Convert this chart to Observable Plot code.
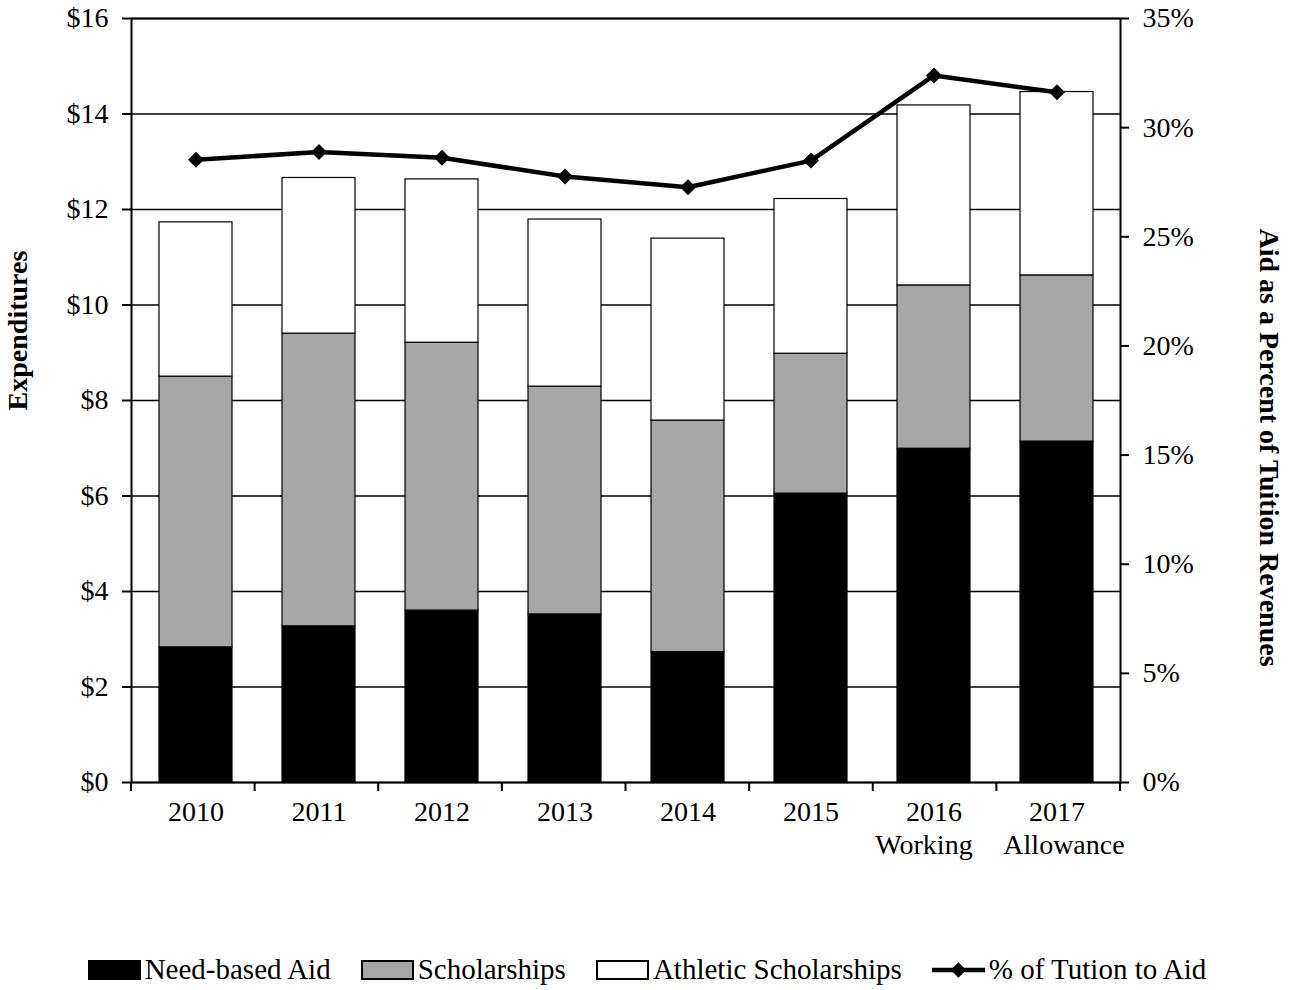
<!DOCTYPE html>
<html>
<head>
<meta charset="utf-8">
<script src="https://cdn.jsdelivr.net/npm/d3@7"></script>
<script src="https://cdn.jsdelivr.net/npm/@observablehq/plot@0.6"></script>
<style>
  html, body { margin: 0; padding: 0; background: #fff; }
  #wrap { position: relative; width: 1294px; height: 990px; font-family: "Liberation Serif", "Times New Roman", serif; }
  #chart svg { display: block; }
  #legend {
    position: absolute; left: 0; top: 953px; width: 1294px;
    display: flex; justify-content: center; align-items: center;
    font-size: 29px; color: #000; gap: 30px;
  }
  .item { display: flex; align-items: center; }
  .item svg { margin-right: 4px; }
</style>
</head>
<body>
<div id="wrap">
  <div id="chart"></div>
  <div id="legend"></div>
</div>
<script>
// Fiscal years shown on the category axis
const years = ["2010", "2011", "2012", "2013", "2014", "2015", "2016", "2017"];

// Expenditures by aid type ($ millions)
const needBased = [2.83, 3.27, 3.60, 3.52, 2.73, 6.05, 6.99, 7.14];
const scholarships = [5.67, 6.13, 5.61, 4.77, 4.85, 2.93, 3.42, 3.48];
const athletic = [3.23, 3.26, 3.42, 3.50, 3.81, 3.24, 3.77, 3.84];

// Aid as a percent of tuition revenues
const pctOfTuition = [28.53, 28.88, 28.62, 27.76, 27.27, 28.49, 32.39, 31.62];

// Axis ticks
const dollarTicks = [0, 2, 4, 6, 8, 10, 12, 14, 16];
const pctTicks = [0, 5, 10, 15, 20, 25, 30, 35];
const dollarMax = 16;
const pctMax = 35;

const seriesNames = ["Need-based Aid", "Scholarships", "Athletic Scholarships"];
const seriesColors = ["#000000", "#a6a6a6", "#ffffff"];
const lineName = "% of Tution to Aid";

// Long table for the stacked bars (bottom to top)
const bars = [];
years.forEach((yr, i) => {
  bars.push({year: yr, series: seriesNames[0], value: needBased[i]});
  bars.push({year: yr, series: seriesNames[1], value: scholarships[i]});
  bars.push({year: yr, series: seriesNames[2], value: athletic[i]});
});

// Percent series mapped onto the dollar axis (secondary axis)
const toLeft = p => p * dollarMax / pctMax;
const pctRows = years.map((yr, i) => ({year: yr, pct: pctOfTuition[i]}));

const font = "'Liberation Serif', 'Times New Roman', serif";
const fs = 28;

// Category boundary ticks below the axis
function boundaryTicks(index, scales, values, dimensions) {
  const {width, height, marginLeft, marginRight, marginBottom} = dimensions;
  const step = (width - marginLeft - marginRight) / years.length;
  const g = d3.create("svg:g");
  for (let i = 0; i <= years.length; i++) {
    const x = marginLeft + i * step;
    g.append("line")
      .attr("x1", x).attr("x2", x)
      .attr("y1", height - marginBottom).attr("y2", height - marginBottom + 9)
      .attr("stroke", "#000").attr("stroke-width", 2);
  }
  return g.node();
}

const chart = Plot.plot({
  width: 1294,
  height: 900,
  marginTop: 18,
  marginBottom: 118,
  marginLeft: 131,
  marginRight: 174,
  style: {fontFamily: font, background: "#fff", color: "#000"},
  x: {type: "band", domain: years, paddingInner: 0.41, paddingOuter: 0.205, axis: null},
  y: {domain: [0, dollarMax], axis: null},
  color: {domain: seriesNames, range: seriesColors},
  marks: [
    Plot.gridY(dollarTicks, {stroke: "#000", strokeOpacity: 1, strokeWidth: 1.5}),
    Plot.barY(bars, {x: "year", y: "value", fill: "series", stroke: "#000", strokeWidth: 1.2}),
    Plot.frame({stroke: "#000", strokeWidth: 2}),
    Plot.axisY(dollarTicks, {
      anchor: "left", tickSize: 9, tickPadding: 14, strokeWidth: 2,
      tickFormat: d => "$" + d, fontSize: fs, label: null
    }),
    Plot.axisY(pctTicks.map(toLeft), {
      anchor: "right", tickSize: 8, tickPadding: 14, strokeWidth: 2,
      tickFormat: d => Math.round(d * pctMax / dollarMax) + "%", fontSize: fs, label: null
    }),
    boundaryTicks,
    Plot.text(years, {x: d => d, frameAnchor: "bottom", dy: 38, fontSize: fs, text: d => d}),
    Plot.text(["Working"], {x: () => "2016", frameAnchor: "bottom", dy: 71, dx: -10, fontSize: fs}),
    Plot.text(["Allowance"], {x: () => "2017", frameAnchor: "bottom", dy: 71, dx: 7, fontSize: fs}),
    Plot.text(["Expenditures"], {
      frameAnchor: "left", textAnchor: "middle", rotate: -90, dx: -113, dy: -70,
      fontSize: fs, fontWeight: "bold"
    }),
    Plot.text(["Aid as a Percent of Tuition Revenues"], {
      frameAnchor: "right", textAnchor: "middle", rotate: 90, dx: 148, dy: 47,
      fontSize: fs, fontWeight: "bold"
    }),
    Plot.line(pctRows, {x: "year", y: d => toLeft(d.pct), stroke: "#000", strokeWidth: 4.5}),
    Plot.dot(pctRows, {x: "year", y: d => toLeft(d.pct), symbol: "diamond2", r: 7.2, fill: "#000", stroke: "none"})
  ]
});
document.getElementById("chart").appendChild(chart);

// Legend
const legend = d3.select("#legend");
seriesNames.forEach((name, i) => {
  const item = legend.append("div").attr("class", "item");
  const sw = item.append("svg").attr("width", 53).attr("height", 20);
  sw.append("rect").attr("x", 1).attr("y", 1).attr("width", 51).attr("height", 18)
    .attr("fill", seriesColors[i]).attr("stroke", "#000").attr("stroke-width", 2);
  item.append("span").text(name);
});
{
  const item = legend.append("div").attr("class", "item");
  const sw = item.append("svg").attr("width", 53).attr("height", 20);
  sw.append("line").attr("x1", 0).attr("x2", 53).attr("y1", 10).attr("y2", 10)
    .attr("stroke", "#000").attr("stroke-width", 4.5);
  sw.append("path").attr("d", d3.symbol(d3.symbolDiamond2, 150)()).attr("transform", "translate(26.5,10)").attr("fill", "#000");
  item.append("span").text(lineName);
}
</script>
</body>
</html>
